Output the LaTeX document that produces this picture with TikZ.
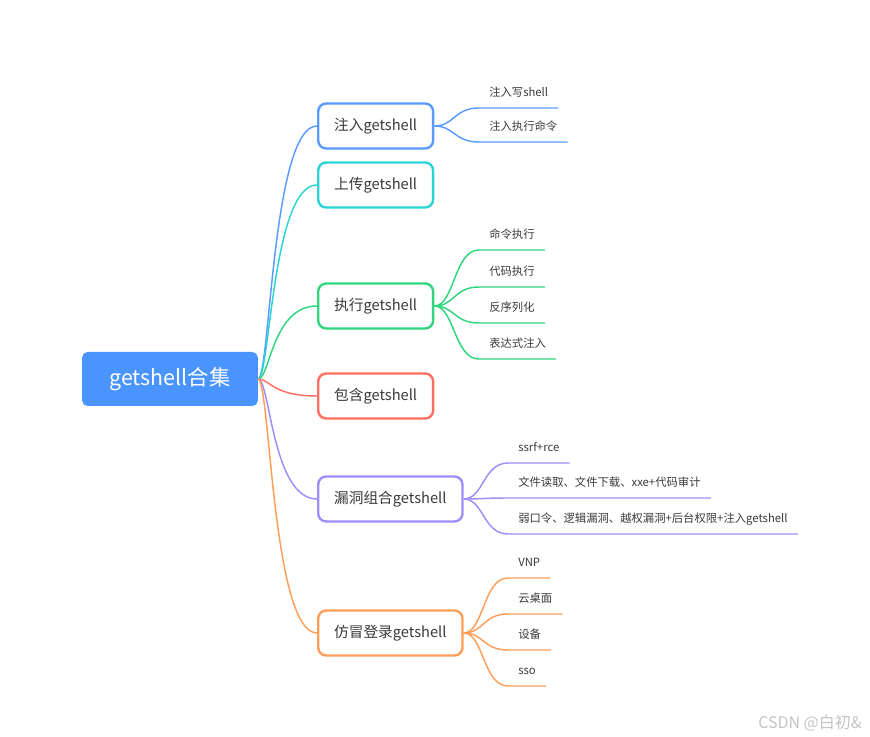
\documentclass[tikz,border=0pt]{standalone}
\usepackage{fontspec}
\setmainfont{Noto Sans CJK SC}
\usetikzlibrary{positioning}

\definecolor{rootblue}{HTML}{4A94FF}
\definecolor{cblue}{HTML}{5B9BFF}
\definecolor{ccyan}{HTML}{2AD4D4}
\definecolor{cgreen}{HTML}{2FD67E}
\definecolor{cred}{HTML}{FF6F63}
\definecolor{cpurple}{HTML}{A08CFA}
\definecolor{corange}{HTML}{FF9E58}
\definecolor{textgray}{HTML}{3A3A3A}
\definecolor{wmgray}{HTML}{C4C4C4}

\begin{document}
\begin{tikzpicture}[x=0.75pt, y=-0.75pt]
                \tikzset{
                    root/.style={fill=rootblue, rounded corners=4pt, text=white, inner xsep=20.6pt, minimum height=40.5pt, font=\fontsize{16}{18}\selectfont},
                    branch/.style={draw=#1, fill=white, rounded corners=6pt, line width=1.8pt, inner xsep=12pt, minimum height=33.75pt, text=textgray, font=\fontsize{11}{13}\selectfont, anchor=west},
                    leaf/.style={anchor=south west, inner xsep=7.5pt, inner ysep=6.5pt, text height=8pt, text depth=2pt, text=textgray, font=\fontsize{8.5}{10}\selectfont},
                    link/.style={draw=#1, line width=1.1pt}
                }
                \useasboundingbox (0,0) rectangle (870,737);

                % ROOT
                \node[root] (root) at (170,379) {getshell合集};

                % BRANCHES
                \node[branch=cblue] (inj) at (317,126) {注入getshell};
                \node[branch=ccyan] (upl) at (317,185) {上传getshell};
                \node[branch=cgreen] (exe) at (317,306) {执行getshell};
                \node[branch=cred] (inc) at (317,396) {包含getshell};
                \node[branch=cpurple] (vul) at (317,499) {漏洞组合getshell};
                \node[branch=corange] (fak) at (317,633) {仿冒登录getshell};

                % LEAVES
                \node[leaf] (inj1) at (479,108) {注入写shell};
                \node[leaf] (inj2) at (479,142) {注入执行命令};
                \node[leaf] (exe1) at (479,250) {命令执行};
                \node[leaf] (exe2) at (479,287) {代码执行};
                \node[leaf] (exe3) at (479,323) {反序列化};
                \node[leaf] (exe4) at (479,359) {表达式注入};
                \node[leaf] (vul1) at (508,463) {ssrf+rce};
                \node[leaf] (vul2) at (508,498) {文件读取、文件下载、xxe+代码审计};
                \node[leaf] (vul3) at (508,534) {弱口令、逻辑漏洞、越权漏洞+后台权限+注入getshell};
                \node[leaf] (fak1) at (508,578) {VNP};
                \node[leaf] (fak2) at (508,614) {云桌面};
                \node[leaf] (fak3) at (508,650) {设备};
                \node[leaf] (fak4) at (508,686) {sso};

                % ROOT LINKS
                \draw[link=cblue] (root.east) .. controls +(12,0) and +(-45,0) .. (inj.west);
                \draw[link=ccyan] (root.east) .. controls +(12,0) and +(-45,0) .. (upl.west);
                \draw[link=cgreen] (root.east) .. controls +(12,0) and +(-45,0) .. (exe.west);
                \draw[link=cred] (root.east) .. controls +(12,0) and +(-45,0) .. (inc.west);
                \draw[link=cpurple] (root.east) .. controls +(12,0) and +(-45,0) .. (vul.west);
                \draw[link=corange] (root.east) .. controls +(12,0) and +(-45,0) .. (fak.west);

                % LEAF LINKS
                \foreach \l in {inj1, inj2}
                    \draw[link=cblue] (inj.east) .. controls +(20,0) and +(-25,0) .. (\l.south west) -- (\l.south east);
                \foreach \l in {exe1, exe2, exe3, exe4}
                    \draw[link=cgreen] (exe.east) .. controls +(20,0) and +(-25,0) .. (\l.south west) -- (\l.south east);
                \foreach \l in {vul1, vul2, vul3}
                    \draw[link=cpurple] (vul.east) .. controls +(20,0) and +(-25,0) .. (\l.south west) -- (\l.south east);
                \foreach \l in {fak1, fak2, fak3, fak4}
                    \draw[link=corange] (fak.east) .. controls +(20,0) and +(-25,0) .. (\l.south west) -- (\l.south east);

                % WATERMARK
                \node[anchor=south east, inner sep=0pt, text=wmgray, font=\fontsize{12}{14}\selectfont] (mark) at (862,732) {CSDN @白初\&};

            \end{tikzpicture}
\end{document}
